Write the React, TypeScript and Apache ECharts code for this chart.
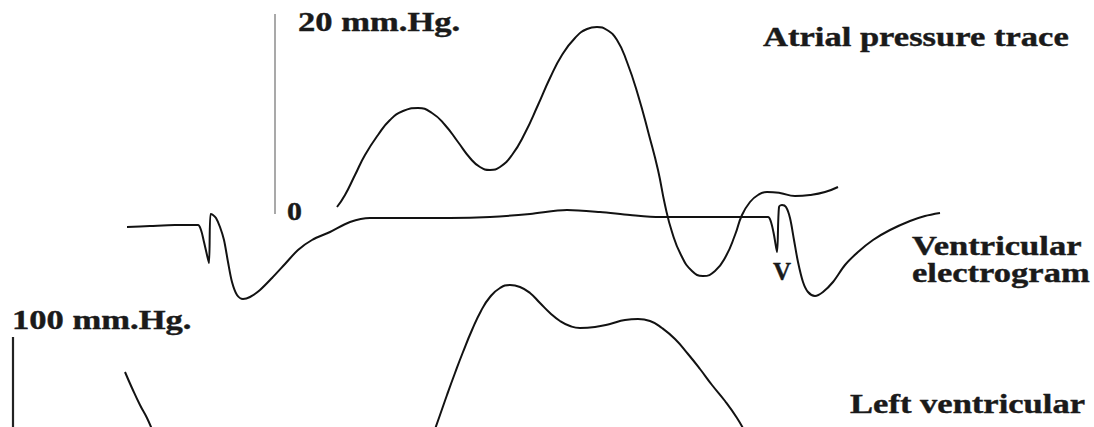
import React, { useEffect, useRef } from "react";
import * as echarts from "echarts";

// Time axis (ms) shared by all traces
const TIME_MIN = 0;
const TIME_MAX = 1094;

// Atrial pressure trace (mm Hg)
const atrialTime = [337, 345, 355, 365, 378, 390, 403, 418, 432, 445, 458, 470, 480, 490, 500, 512, 525, 538, 550, 562, 575, 587, 597, 607, 617, 627, 638, 649, 658, 665, 672, 681, 692, 703, 715, 726, 735, 742, 750, 758, 767, 780, 795, 810, 825, 838];
const atrialPressure = [0.7, 1.9, 3.9, 5.9, 7.9, 9.4, 10.3, 10.6, 10.1, 8.9, 7.2, 5.6, 4.7, 4.4, 4.7, 5.9, 8.1, 10.9, 13.6, 15.9, 17.6, 18.5, 18.7, 18.4, 17.4, 15.2, 11.9, 7.9, 4.4, 0.9, -1.8, -4.1, -5.7, -6.2, -5.7, -4.2, -2.1, -0.1, 1.2, 1.9, 2.2, 2.1, 1.8, 1.9, 2.2, 2.7];

// Ventricular electrogram (mV)
const egmTime = [127, 150, 175, 198, 201, 204, 207, 209, 210.5, 213, 216, 220, 224, 228, 232, 237, 243, 250, 260, 272, 285, 298, 312, 330, 350, 370, 400, 450, 490, 530, 567, 600, 630, 660, 700, 740, 768, 771, 774, 777, 779, 782, 786, 790, 794, 798, 803, 808, 815, 823, 833, 845, 858, 873, 890, 910, 925, 940];
const egmVoltage = [-0.2, -0.18, -0.16, -0.16, -0.26, -0.5, -0.76, -0.92, 0.06, 0.04, -0.02, -0.2, -0.46, -0.9, -1.3, -1.56, -1.64, -1.6, -1.46, -1.22, -0.94, -0.66, -0.46, -0.3, -0.1, -0.02, -0.02, -0.02, 0, 0.06, 0.14, 0.1, 0.04, 0, 0, 0, 0, -0.1, -0.36, -0.7, 0.2, 0.24, 0.2, -0.02, -0.46, -0.9, -1.3, -1.5, -1.58, -1.5, -1.3, -0.96, -0.7, -0.46, -0.26, -0.08, 0.02, 0.08];

// Left ventricular pressure (mm Hg), end of previous beat and current beat
const lvPrevTime = [125, 132, 140, 147, 153];
const lvPrevPressure = [65, 49, 32, 19, 5];
const lvTime = [434, 440, 447, 455, 463, 472, 481, 490, 500, 510, 520, 530, 540, 550, 560, 570, 580, 595, 610, 625, 638, 650, 662, 675, 688, 700, 712, 725, 737, 745];
const lvPressure = [5, 22, 42, 64, 85, 107, 126, 140, 149, 152, 150, 144, 134, 124, 116, 111, 109, 110, 113, 117, 118, 116, 109, 98, 83, 68, 52, 36, 19, 5];

// Calibration bars
const atrialScaleTime = 275;
const atrialScale = [0, 20];
const lvScaleTime = 13;
const lvScale = [0, 100];

const pair = (xs: number[], ys: number[]) => xs.map((x, i) => [x, ys[i]]);

const FONT = '"Liberation Serif", "Times New Roman", serif';
const TEXT_COLOR = "#1a1a1a";
const LINE_COLOR = "#121212";

function label(text: string, x: number, y: number, size = 27, sx = 1.28) {
  return {
    type: "text",
    x,
    y,
    scaleX: sx,
    style: {
      text,
      fontFamily: FONT,
      fontWeight: "bold",
      fontSize: size,
      fill: TEXT_COLOR,
      stroke: TEXT_COLOR,
      lineWidth: 0.4,
      align: "left",
      verticalAlign: "middle",
    },
  };
}

export default function App() {
  const ref = useRef<HTMLDivElement>(null);

  useEffect(() => {
    if (!ref.current) return;
    const chart = echarts.init(ref.current, null, { renderer: "svg" });
    const lineStyle = { color: LINE_COLOR, width: 2 };
    const base = {
      type: "line",
      xAxisIndex: 0,
      showSymbol: false,
      symbol: "none",
      smooth: 0.5,
      lineStyle,
      silent: true,
    };
    chart.setOption({
      animation: false,
      backgroundColor: "#ffffff",
      grid: { left: 0, right: 0, top: 0, bottom: 0, containLabel: false },
      xAxis: { type: "value", min: TIME_MIN, max: TIME_MAX, show: false },
      yAxis: [
        { type: "value", min: -21.3, max: 21.4, show: false, splitLine: { show: false } },
        { type: "value", min: -4.2, max: 4.34, show: false, splitLine: { show: false } },
        { type: "value", min: 10, max: 437, show: false, splitLine: { show: false } },
      ],
      series: [
        { ...base, name: "Atrial pressure", yAxisIndex: 0, data: pair(atrialTime, atrialPressure) },
        { ...base, name: "Ventricular electrogram", yAxisIndex: 1, smooth: 0.3, data: pair(egmTime, egmVoltage) },
        { ...base, name: "LV previous", yAxisIndex: 2, data: pair(lvPrevTime, lvPrevPressure) },
        { ...base, name: "Left ventricular pressure", yAxisIndex: 2, data: pair(lvTime, lvPressure) },
        {
          ...base,
          name: "20 mm Hg scale",
          yAxisIndex: 0,
          smooth: false,
          lineStyle: { color: "#8c8c8c", width: 1.5 },
          data: atrialScale.map((v) => [atrialScaleTime, v]),
        },
        {
          ...base,
          name: "100 mm Hg scale",
          yAxisIndex: 2,
          smooth: false,
          lineStyle: { color: "#222", width: 2.2 },
          data: lvScale.map((v) => [lvScaleTime, v]),
        },
      ],
      graphic: [
        label("20 mm.Hg.", 298, 22),
        label("0", 287, 211, 26, 1.15),
        label("Atrial pressure trace", 763, 37),
        label("Ventricular", 912, 246),
        label("electrogram", 912, 273),
        label("V", 773, 271, 25, 1.0),
        label("100 mm.Hg.", 12, 320),
        label("Left ventricular", 850, 404),
      ],
    });
    return () => chart.dispose();
  }, []);

  return (
    <div
      ref={ref}
      style={{ position: "fixed", left: 0, top: 0, width: 1094, height: 427, background: "#fff" }}
    />
  );
}
